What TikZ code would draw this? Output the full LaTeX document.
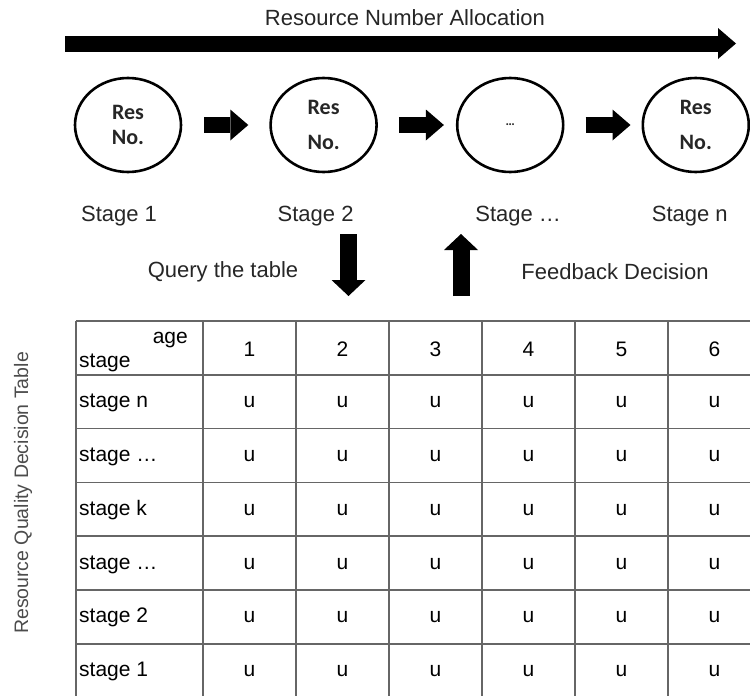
\documentclass[tikz,border=0pt]{standalone}
\usepackage{fontspec}
\setmainfont{Liberation Sans}
\newfontfamily\resfont{Carlito}
\usepackage{tikz}
\usetikzlibrary{positioning,arrows.meta,shapes.geometric}

\begin{document}
\begin{tikzpicture}[
x=1pt, y=-1pt,
node distance=78pt,
res/.style={draw, ellipse, line width=2.6pt, minimum width=106pt, minimum height=94pt, inner sep=0pt, align=center, font=\resfont\bfseries\fontsize{22}{25}\selectfont, text=black!85},
blockarr/.style={line width=16pt, -{Triangle[length=18pt, width=31pt, line width=0pt]}},
tallarr/.style={line width=17pt, -{Triangle[length=16pt, width=34pt, line width=0pt]}},
lbl/.style={inner sep=0pt, font=\fontsize{22}{26}\selectfont, text=black!85},
cell/.style={inner sep=0pt, font=\fontsize{21}{25}\selectfont, anchor=base},
tabline/.style={draw=black!60, line width=1.5pt}
]
\useasboundingbox (0,0) rectangle (750,696);

\coordinate (a0) at (65,43.5);
\coordinate (a1) at (736,43.5);
\draw[blockarr] (a0) -- (a1);
\node[lbl] (title) at (405,18) {Resource Number Allocation};

\node[res] (c1) at (128,125) {Res\\No.};
\node[res, right=87pt of c1] (c2) {Res\\[10pt]No.};
\node[res, right=of c2] (c3) {\fontsize{13}{13}\selectfont\ldots};
\node[res, right=77pt of c3] (c4) {Res\\[10pt]No.};
\draw[blockarr, shorten <=22pt, shorten >=21pt] (c1.east) -- (c2.west);
\draw[blockarr, shorten <=21pt, shorten >=12pt] (c2.east) -- (c3.west);
\draw[blockarr, shorten <=21pt, shorten >=11pt] (c3.east) -- (c4.west);

\node[lbl, below=33pt of c1, xshift=-9pt] (s1) {Stage 1};
\node[lbl, below=33pt of c2, xshift=-8pt] (s2) {Stage 2};
\node[lbl, below=33pt of c3, xshift=8pt] (s3) {Stage \ldots};
\node[lbl, below=33pt of c4, xshift=-6pt] (s4) {Stage n};

\coordinate (q0) at (348.5,234);
\coordinate (q1) at (348.5,296);
\coordinate (f0) at (461,296);
\coordinate (f1) at (461,234);
\draw[tallarr] (q0) -- (q1);
\draw[tallarr] (f0) -- (f1);
\node[lbl] (query) at (223,272) {Query the table};
\node[lbl] (feedback) at (615,272) {Feedback Decision};

\node[lbl, rotate=90, text=black!70, font=\fontsize{19.5}{22}\selectfont] (tbltitle) at (23,493) {Resource Quality Decision Table};

\foreach \x in {76,203,296,389,482,575,668}
  \draw[tabline] (\x,321) -- (\x,696);
\foreach \r in {0,...,6}
  \draw[tabline] (76,321+53.8*\r) -- (750,321+53.8*\r);

\node[cell, anchor=base east] (hage) at (188,343) {age};
\node[cell, anchor=base west] (hstage) at (79,367) {stage};
\foreach \c in {1,...,6}
  \node[cell] (h\c) at (156.5+93*\c,356) {\c};
\foreach \r/\lab in {1/stage n, 2/stage \ldots, 3/stage k, 4/stage \ldots, 5/stage 2, 6/stage 1} {
  \node[cell, anchor=base west] (r\r) at (79,353.9+53.8*\r) {\lab};
  \foreach \c in {1,...,6}
    \node[cell] (u\r\c) at (156.5+93*\c,353.9+53.8*\r) {u};
}
\end{tikzpicture}
\end{document}
